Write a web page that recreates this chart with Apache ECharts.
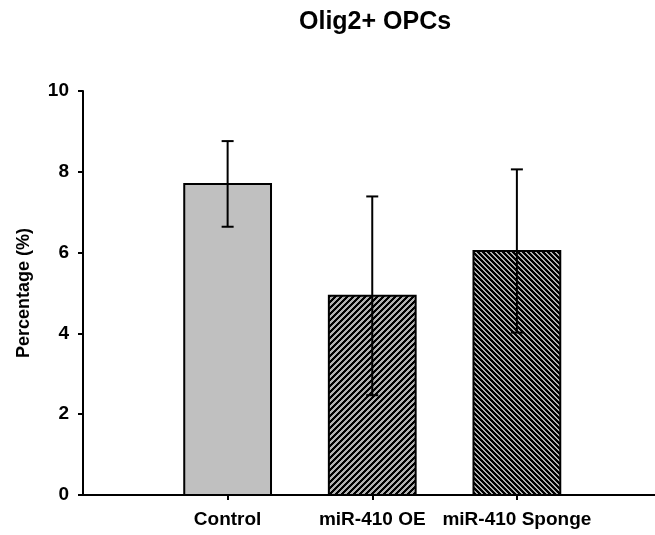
<!DOCTYPE html>
<html>
<head>
<meta charset="utf-8">
<script src="https://cdn.jsdelivr.net/npm/echarts@6/dist/echarts.min.js"></script>
<style>
  html, body { margin: 0; padding: 0; background: #ffffff; }
  #chart { width: 655px; height: 535px; }
</style>
</head>
<body>
<div id="chart"></div>
<script>
// Group names, positioned at x = 1, 2, 3 on a numeric x axis
const categories = ['Control', 'miR-410 OE', 'miR-410 Sponge'];
const positions = [1, 2, 3];
// Mean percentage of Olig2+ OPCs and its error (symmetric)
const means = [7.70, 4.93, 6.04];
const errors = [1.06, 2.46, 2.02];
// Y axis ticks
const yTicks = [0, 2, 4, 6, 8, 10];

const FONT = 'Liberation Sans, Arial, sans-serif';

// Build a diagonal hatch tile: dir = 1 for '/', -1 for '\'
function hatchTile(period, dark, dir) {
  const c = document.createElement('canvas');
  c.width = period; c.height = period;
  const ctx = c.getContext('2d');
  const img = ctx.createImageData(period, period);
  for (let y = 0; y < period; y++) {
    for (let x = 0; x < period; x++) {
      const k = (((dir > 0 ? x + y : x - y) % period) + period) % period;
      const v = k < dark ? 0 : 176;
      const i = (y * period + x) * 4;
      img.data[i] = v; img.data[i + 1] = v; img.data[i + 2] = v; img.data[i + 3] = 255;
    }
  }
  ctx.putImageData(img, 0, 0);
  return c;
}

const fills = [
  '#c0c0c0',
  { image: hatchTile(6, 3, 1), repeat: 'repeat' },
  { image: hatchTile(5, 3, -1), repeat: 'repeat' }
];

const barData = positions.map((p, i) => [p, means[i], i]);
const errData = positions.map((p, i) => [p, means[i] - errors[i], means[i] + errors[i]]);

const chart = echarts.init(document.getElementById('chart'), null, { renderer: 'canvas' });

chart.setOption({
  animation: false,
  backgroundColor: '#ffffff',
  title: {
    text: 'Olig2+ OPCs',
    left: 294,
    top: 5,
    textStyle: { fontFamily: FONT, fontSize: 25, fontWeight: 'bold', color: '#000' }
  },
  grid: { left: 83, top: 91, bottom: 40, right: 0 },
  xAxis: {
    type: 'value',
    min: 0,
    max: 3.955,
    splitLine: { show: false },
    axisLine: { show: true, onZero: false, lineStyle: { color: '#000', width: 2 } },
    axisTick: { show: true, customValues: positions, length: 5, lineStyle: { color: '#000', width: 2 } },
    axisLabel: {
      customValues: positions,
      formatter: v => categories[positions.indexOf(v)] || '',
      margin: 15,
      fontFamily: FONT, fontSize: 19, fontWeight: 'bold', color: '#000'
    }
  },
  yAxis: {
    type: 'value',
    min: 0,
    max: 10,
    interval: 2,
    name: 'Percentage (%)',
    nameLocation: 'middle',
    nameGap: 50,
    nameTextStyle: { fontFamily: FONT, fontSize: 18, fontWeight: 'bold', color: '#000' },
    splitLine: { show: false },
    axisLine: { show: true, lineStyle: { color: '#000', width: 2 } },
    axisTick: { show: true, length: 5, lineStyle: { color: '#000', width: 2 } },
    axisLabel: {
      margin: 14,
      fontFamily: FONT, fontSize: 19, fontWeight: 'bold', color: '#000',
      formatter: v => (yTicks.includes(v) ? String(v) : '')
    }
  },
  series: [
    {
      type: 'custom',
      data: barData,
      z: 2,
      renderItem: function (params, api) {
        const x = api.value(0);
        const top = api.coord([x, api.value(1)]);
        const base = api.coord([x, 0]);
        const w = api.size([0.6, 0])[0];
        return {
          type: 'rect',
          shape: { x: top[0] - w / 2, y: top[1], width: w, height: base[1] - top[1] },
          style: { fill: fills[api.value(2)], stroke: '#000', lineWidth: 2 }
        };
      }
    },
    {
      type: 'custom',
      data: errData,
      z: 3,
      renderItem: function (params, api) {
        const x = api.value(0);
        const lo = api.coord([x, api.value(1)]);
        const hi = api.coord([x, api.value(2)]);
        const cap = 6;
        const st = { stroke: '#000', lineWidth: 2 };
        return {
          type: 'group',
          children: [
            { type: 'line', shape: { x1: lo[0], y1: lo[1], x2: hi[0], y2: hi[1] }, style: st },
            { type: 'line', shape: { x1: hi[0] - cap, y1: hi[1], x2: hi[0] + cap, y2: hi[1] }, style: st },
            { type: 'line', shape: { x1: lo[0] - cap, y1: lo[1], x2: lo[0] + cap, y2: lo[1] }, style: st }
          ]
        };
      }
    }
  ]
});
</script>
</body>
</html>
